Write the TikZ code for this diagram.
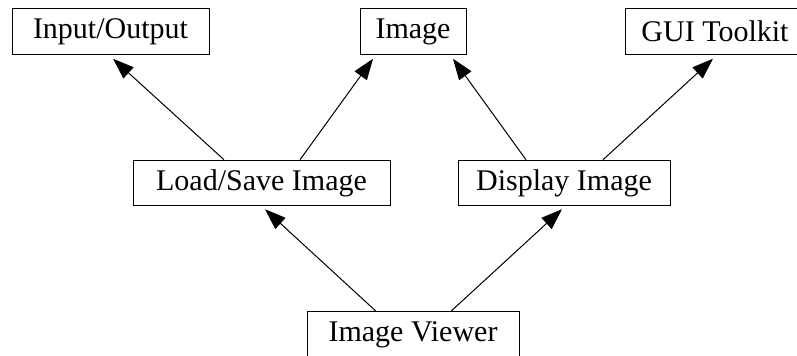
\documentclass[tikz,border=0pt]{standalone}
\usepackage{fontspec}
\setmainfont{Liberation Serif}
\usetikzlibrary{arrows.meta,calc}

\tikzset{
  module/.style={draw, line width=0.5pt, inner sep=0pt, minimum height=22.75pt,
    font=\fontsize{15}{18}\selectfont},
  dep/.style={line width=0.5pt, -{Triangle[length=10.5pt,width=7.5pt]}}
}

\begin{document}
\begin{tikzpicture}[x=0.5pt, y=-0.5pt]
  \useasboundingbox (0,0) rectangle (797,356);

  % top layer
  \node[module, minimum width=98.5pt] (io)  at (110.5,31.5) {Input/Output};
  \node[module, minimum width=53pt]   (img) at (413,31.5)   {Image};
  \node[module, minimum width=90pt]   (gui) at (715,31.5)   {GUI Toolkit};

  % middle layer
  \node[module, minimum width=128.5pt] (ls)   at (261.5,183) {Load/Save Image};
  \node[module, minimum width=106pt]   (disp) at (564,183)   {Display Image};

  % bottom layer
  \node[module, minimum width=106pt] (iv) at (413,334.5) {Image Viewer};

  % dependencies
  \draw[dep] ($(ls.north)+(-37.5,0)$)   -- ($(io.south)+(2.5,4)$);
  \draw[dep] ($(ls.north)+(38.5,0)$)    -- ($(img.south)+(-40,4)$);
  \draw[dep] ($(disp.north)+(-38,0)$)   -- ($(img.south)+(40,4)$);
  \draw[dep] ($(disp.north)+(39,0)$)    -- ($(gui.south)+(-2,4)$);
  \draw[dep] ($(iv.north)+(-37,0)$)     -- ($(ls.south)+(3.5,3)$);
  \draw[dep] ($(iv.north)+(38,0)$)      -- ($(disp.south)+(-2,3)$);
\end{tikzpicture}
\end{document}
